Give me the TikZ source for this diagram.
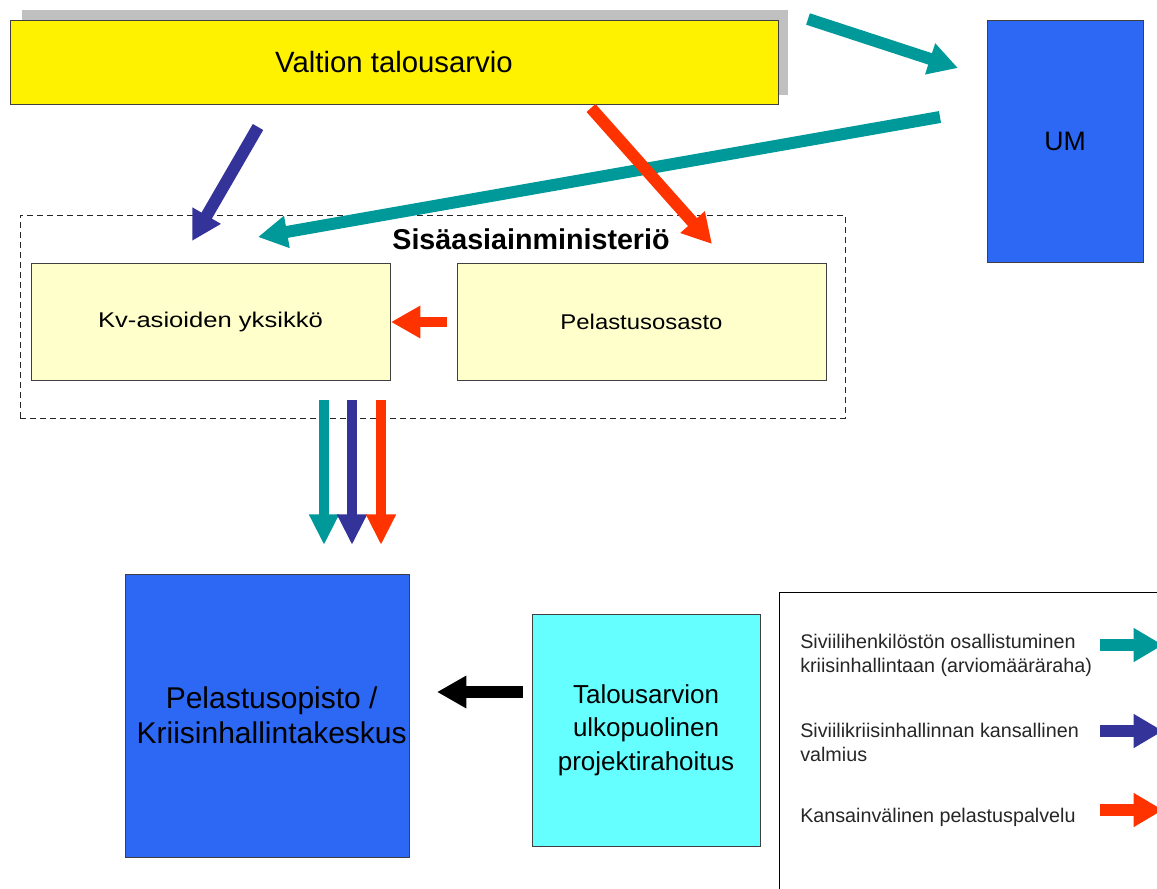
\documentclass[tikz,border=0pt]{standalone}
\usepackage{fontspec}
\setmainfont{Liberation Sans}
\usetikzlibrary{arrows.meta}
\definecolor{tealA}{RGB}{0,153,153}
\definecolor{navyA}{RGB}{51,51,153}
\definecolor{redA}{RGB}{255,51,0}
\definecolor{blueA}{RGB}{45,104,245}
\definecolor{cyanA}{RGB}{102,255,255}
\definecolor{paleyel}{RGB}{255,255,204}
\definecolor{shadowgray}{RGB}{192,192,192}
\begin{document}
\begin{tikzpicture}[x=0.75pt,y=-0.75pt,
  box/.style={draw=black!75, line width=0.75pt, inner sep=0pt, anchor=center, align=center},
  bigarrow/.style={line width=9pt, -{Triangle[length=22pt,width=23pt]}},
  vertarrow/.style={line width=7.5pt, -{Triangle[length=23pt,width=21pt]}},
  legarrow/.style={line width=9.5pt, -{Triangle[length=22pt,width=24pt]}},
  legtext/.style={anchor=west, align=left, inner sep=0pt, text=black!85, font=\fontsize{14.8}{18}\selectfont}
]
\clip (0,0) rectangle (1157,889);
\fill[white] (0,0) rectangle (1157,889);

% top budget box with shadow
\fill[shadowgray] (22,10) rectangle (788,95);
\node[box, fill=yellow, minimum width=576pt, minimum height=63pt,
  font=\fontsize{22}{26}\selectfont] (vt) at (394,62) {Valtion talousarvio};

% UM
\node[box, fill=blueA, minimum width=117pt, minimum height=181.5pt,
  font=\fontsize{20}{24}\selectfont] (um) at (1065,141) {UM};

% ministry dashed frame
\node[draw=black!85, dash pattern=on 4.5pt off 3pt, line width=0.75pt, inner sep=0pt,
  minimum width=618.75pt, minimum height=152.25pt] (sm) at (432.5,316.5) {};
\node[inner sep=0pt, font=\bfseries\fontsize{21.5}{26}\selectfont] (smlabel) at (531,239) {Sisäasiainministeriö};

\node[box, fill=paleyel, minimum width=269.25pt, minimum height=87.75pt] (kv) at (210.5,321.5)
  {\scalebox{1.2}[1]{\fontsize{16}{19}\selectfont Kv-asioiden yksikkö}};
\node[box, fill=paleyel, minimum width=276.75pt, minimum height=87.75pt] (po) at (641.5,321.5)
  {\scalebox{1.12}[1]{\fontsize{16}{19}\selectfont Pelastusosasto}};

% lower boxes
\node[box, fill=blueA, minimum width=213pt, minimum height=212.25pt,
  font=\fontsize{22.5}{26.25}\selectfont] (pk) at (267,715.5) {\hspace*{7pt}Pelastusopisto /\\\hspace*{7pt}Kriisinhallintakeskus};
\node[box, fill=cyanA, minimum width=171pt, minimum height=174pt,
  font=\fontsize{19.5}{25}\selectfont] (tu) at (646,730) {Talousarvion\\ulkopuolinen\\projektirahoitus};

% legend
\node[draw=black, line width=0.75pt, inner sep=0pt, minimum width=293.25pt, minimum height=231pt] (leg) at (974.5,746) {};
\node[legtext] (l1) at (800,655) {Siviilihenkilöstön osallistuminen\\kriisinhallintaan (arviomääräraha)};
\node[legtext] (l2) at (800,742.5) {Siviilikriisinhallinnan kansallinen\\valmius};
\node[legtext] (l3) at (800,817) {Kansainvälinen pelastuspalvelu};

% arrow end points
\coordinate (a1s) at (808,19);   \coordinate (a1e) at (958,68);
\coordinate (a2s) at (940,117);  \coordinate (a2e) at (258,237);
\coordinate (a3s) at (258,127);  \coordinate (a3e) at (192,241);
\coordinate (a4s) at (591,108);  \coordinate (a4e) at (712,244);
\coordinate (a5s) at (447,322);  \coordinate (a5e) at (391,322);
\coordinate (v1s) at (324,400);  \coordinate (v1e) at (324,545);
\coordinate (v2s) at (352,400);  \coordinate (v2e) at (352,545);
\coordinate (v3s) at (381,400);  \coordinate (v3e) at (381,545);
\coordinate (b1s) at (523,692);  \coordinate (b1e) at (437,692);
\coordinate (g1s) at (1100,645); \coordinate (g1e) at (1163,645);
\coordinate (g2s) at (1100,731); \coordinate (g2e) at (1163,731);
\coordinate (g3s) at (1100,810); \coordinate (g3e) at (1163,810);

% arrows
\draw[bigarrow, tealA] (a1s) -- (a1e);
\draw[bigarrow, tealA] (a2s) -- (a2e);
\draw[bigarrow, navyA] (a3s) -- (a3e);
\draw[bigarrow, redA] (a4s) -- (a4e);
\draw[bigarrow, redA, line width=8pt] (a5s) -- (a5e);
\draw[vertarrow, tealA] (v1s) -- (v1e);
\draw[vertarrow, navyA] (v2s) -- (v2e);
\draw[vertarrow, redA] (v3s) -- (v3e);
\draw[bigarrow, black] (b1s) -- (b1e);
\draw[legarrow, tealA] (g1s) -- (g1e);
\draw[legarrow, navyA] (g2s) -- (g2e);
\draw[legarrow, redA] (g3s) -- (g3e);
\end{tikzpicture}
\end{document}
